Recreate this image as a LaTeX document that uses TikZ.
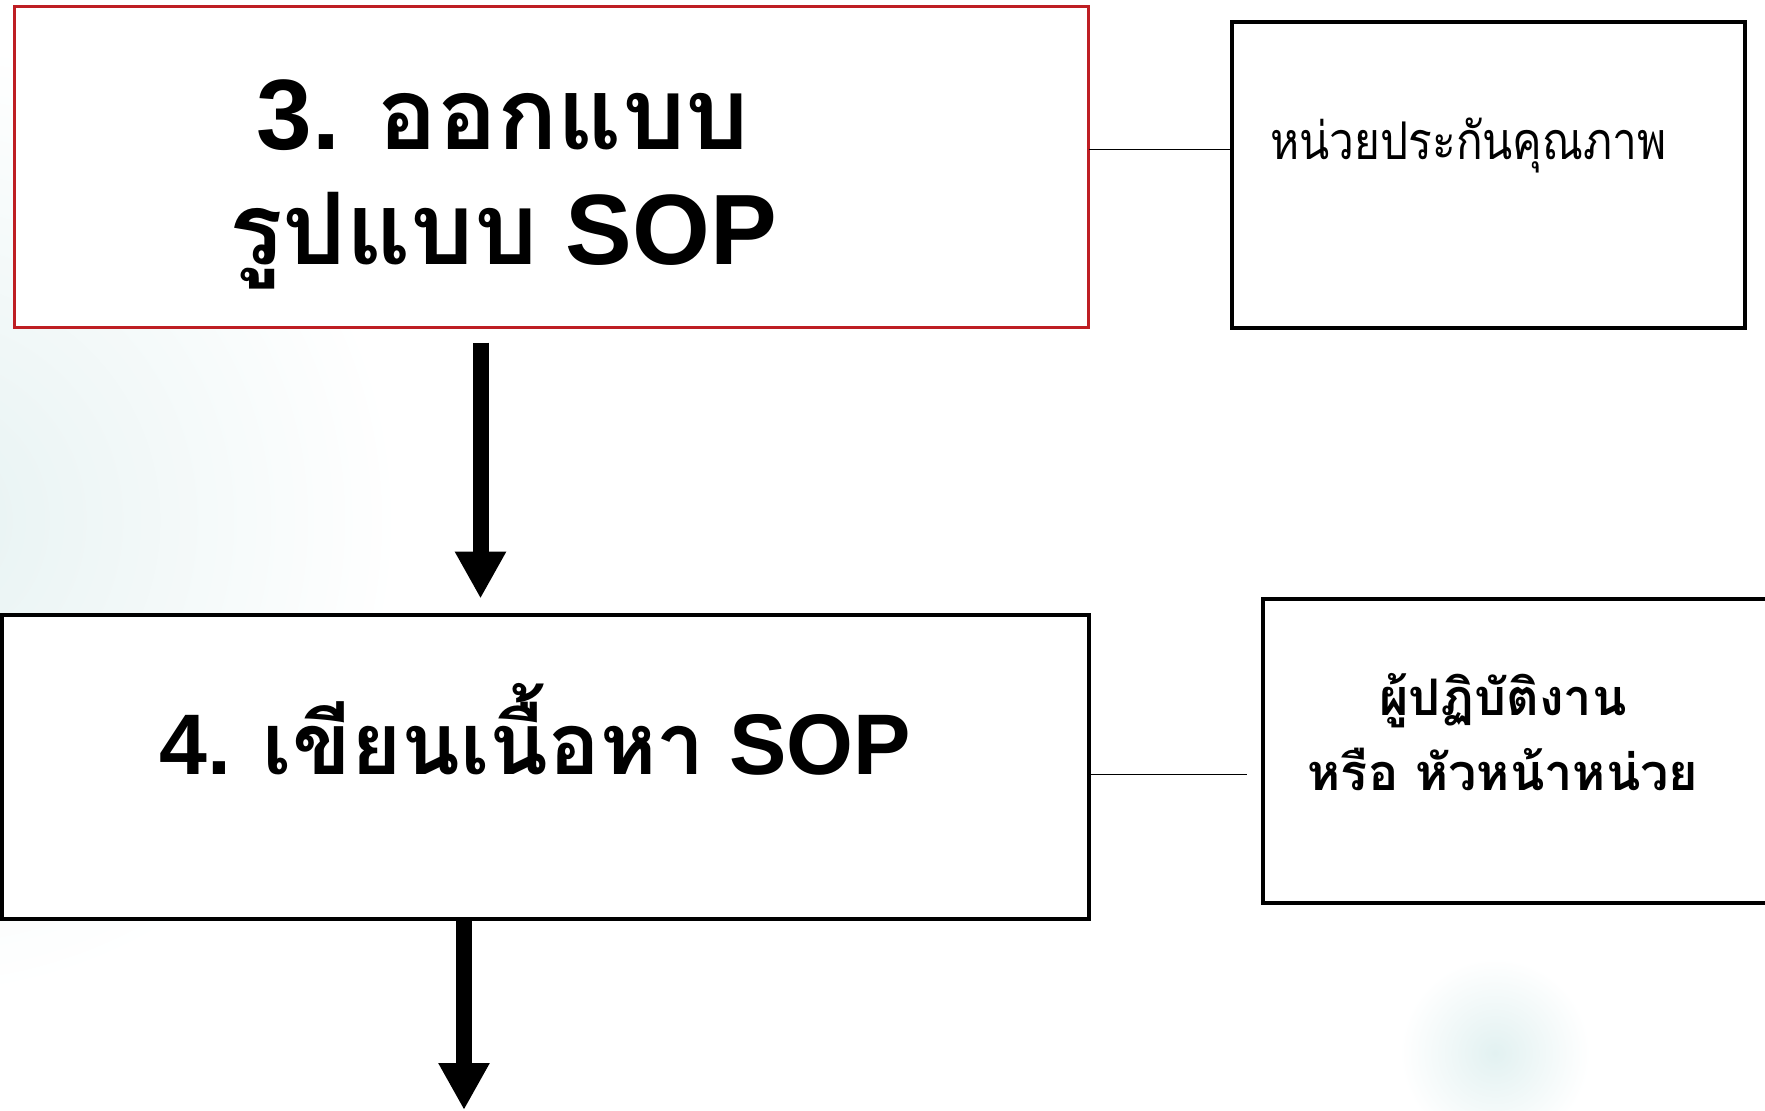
\documentclass[tikz,border=0pt]{standalone}
\usepackage{fontspec}
\setmainfont{Liberation Sans}
\newfontfamily\thaifont[Script=Thai]{Loma}
\newfontfamily\thainarrow[Script=Thai, FakeStretch=0.85]{Loma}
\usetikzlibrary{arrows.meta}
\definecolor{boxred}{RGB}{190,30,35}
\definecolor{glow}{RGB}{230,242,242}
\definecolor{glowb}{RGB}{226,241,241}
\newcommand\thx[1]{{\thaifont #1}}
\pgfdeclareradialshading{glowfade}{\pgfpoint{0bp}{0bp}}{color(0bp)=(glow); color(25bp)=(white); color(50bp)=(white)}
\pgfdeclareradialshading{glowfadeb}{\pgfpoint{0bp}{0bp}}{color(0bp)=(glowb); color(25bp)=(white); color(50bp)=(white)}

\begin{document}
\begin{tikzpicture}[x=0.5pt,y=-0.5pt,
  panel/.style={draw=black, line width=2pt, fill=white, inner sep=0pt, outer sep=0pt},
  flow/.style={line width=8pt, -{Triangle[length=23.5pt 0 0, width=24pt 0 0]}},
  link/.style={line width=0.8pt},
  bigtext/.style={font=\bfseries\fontsize{50}{60}\selectfont, inner sep=0pt, anchor=base},
  midtext/.style={font=\bfseries\fontsize{43}{52}\selectfont, inner sep=0pt, anchor=base},
  sidetext/.style={font=\thainarrow\fontsize{26}{31}\selectfont, inner sep=0pt, anchor=base west},
  sidebold/.style={font=\thaifont\bfseries\fontsize{25.2}{30}\selectfont, inner sep=0pt, anchor=base}]

\useasboundingbox (0,0) rectangle (1765,1111);
\clip (0,0) rectangle (1765,1111);

% soft background glows
\shade[shading=glowfade] (-560,40) rectangle (400,1000);
\shade[shading=glowfadeb] (1400,958) rectangle (1590,1148);

% boxes
\node[panel, draw=boxred, line width=1.5pt, minimum width=537pt, minimum height=160.4pt] (b3) at (551.6,167.2) {};
\node[panel, minimum width=256.6pt, minimum height=152.6pt] (qa) at (1488.2,175) {};
\node[panel, minimum width=543.3pt, minimum height=152pt] (b4) at (545.3,766.6) {};
\node[panel, minimum width=263.5pt, minimum height=152pt] (r2) at (1526.5,750.9) {};

% box texts
\node[bigtext] (t3a) at (503,150) {3. \thx{ออกแบบ}};
\node[bigtext] (t3b) at (503,265) {\thx{รูปแบบ} SOP};
\node[midtext] (t4) at (535,774.5) {4. \thx{เขียนเนื้อหา} SOP};
\node[sidetext] (qat) at (1270,160) {หน่วยประกันคุณภาพ};
\node[sidebold] (r2a) at (1503,715) {ผู้ปฏิบัติงาน};
\node[sidebold] (r2b) at (1503,790) {หรือ หัวหน้าหน่วย};

% side connectors
\coordinate (j1) at (1100,149.7);
\draw[link] (j1 -| b3.east) -- (j1 -| qa.west);
\coordinate (j2) at (1247.3,774.5);
\draw[link] (j2 -| b4.east) -- (j2);

% flow arrows
\coordinate (a1) at (480.5,0);
\draw[flow, shorten <=7.5pt, shorten >=8pt] (a1 |- b3.south) -- (a1 |- b4.north);
\coordinate (a2) at (464,1110);
\draw[flow] (a2 |- b4.south) -- (a2);
\end{tikzpicture}
\end{document}
